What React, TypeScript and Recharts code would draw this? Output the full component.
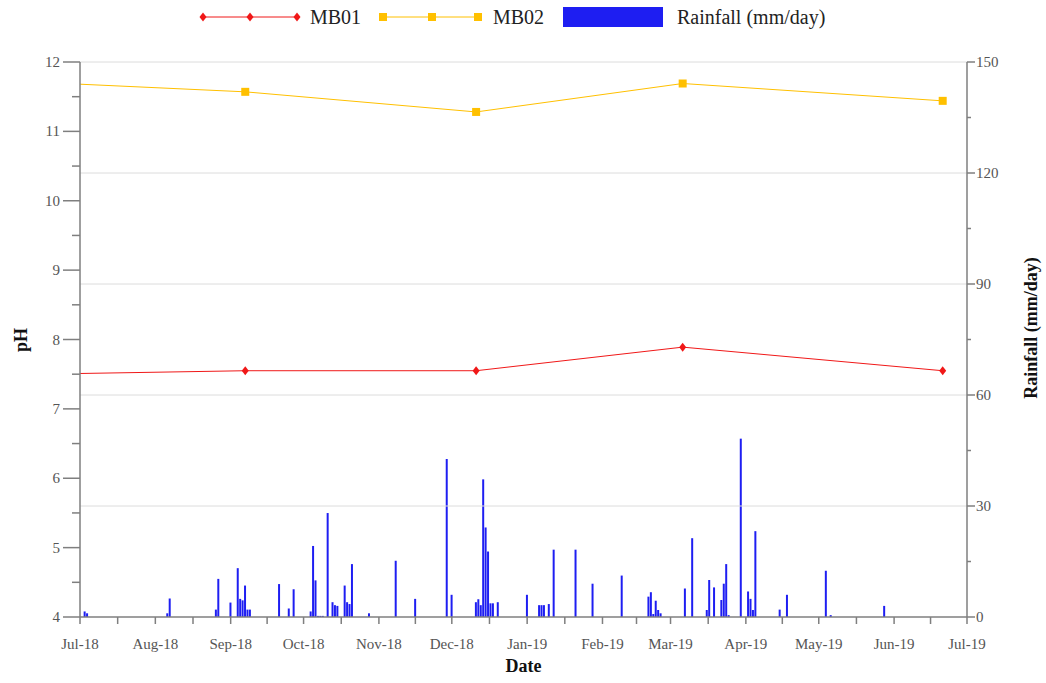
import React from 'react';
import { ComposedChart, Bar, Line, XAxis, YAxis, ReferenceLine } from 'recharts';

// days counted from 1 Jul 2018
const RAIN_DAYS = [2, 3, 36, 37, 56, 57, 62, 65, 66, 67, 68, 69, 70, 82, 86, 88, 95, 96, 97, 98, 99, 100, 102, 104, 105, 106, 109, 110, 111, 112, 119, 130, 138, 151, 153, 163, 164, 165, 166, 167, 168, 169, 170, 172, 184, 189, 190, 191, 193, 195, 204, 211, 223, 234, 235, 236, 237, 238, 239, 249, 252, 258, 259, 261, 264, 265, 266, 267, 272, 275, 276, 277, 278, 288, 291, 307, 309, 331];
const RAIN_MM = [1.5, 1, 1, 5, 2, 10.3, 3.9, 13.2, 4.9, 4.5, 8.5, 2, 2, 8.9, 2.3, 7.5, 1.5, 19.2, 9.9, 0.3, 0.3, 0.3, 28.1, 4, 3.2, 3, 8.5, 4, 3.5, 14.3, 1, 15.2, 4.9, 42.7, 6, 4, 4.8, 3.2, 37.2, 24.2, 17.7, 3.7, 3.7, 4, 6, 3.2, 3.2, 3.2, 3.5, 18.2, 18.2, 9, 11.2, 5.5, 6.7, 0.8, 4.4, 1.9, 1, 7.7, 21.3, 1.9, 10, 8, 4.6, 9, 14.3, 0.5, 48.2, 6.9, 4.9, 1.9, 23.2, 2, 6, 12.5, 0.5, 3];

const SAMPLE_DAYS = [0, 68, 163, 248, 355];
const MB01 = [7.51, 7.55, 7.55, 7.89, 7.55];
const MB02 = [11.68, 11.57, 11.28, 11.69, 11.44];

const MONTH_DAYS = [0, 31, 62, 92, 123, 153, 184, 215, 243, 274, 304, 335, 365];
const MONTH_LABELS = ['Jul-18', 'Aug-18', 'Sep-18', 'Oct-18', 'Nov-18', 'Dec-18', 'Jan-19', 'Feb-19', 'Mar-19', 'Apr-19', 'May-19', 'Jun-19', 'Jul-19'];

const PH_TICKS = [4, 4.5, 5, 5.5, 6, 6.5, 7, 7.5, 8, 8.5, 9, 9.5, 10, 10.5, 11, 11.5, 12];
const RAIN_TICKS = [0, 15, 30, 45, 60, 75, 90, 105, 120, 135, 150];
const RAIN_GRID = [30, 60, 90, 120, 150];

const FONT = '"Liberation Serif", "Times New Roman", serif';
const AXIS = '#7f7f7f';
const RED = '#f01818';
const GOLD = '#ffc000';
const BLUE = '#1e1ef2';

const rows = new Map<number, any>();
const row = (d: number) => {
  if (!rows.has(d)) rows.set(d, { day: d });
  return rows.get(d);
};
RAIN_DAYS.forEach((d, i) => (row(d).rain = RAIN_MM[i]));
SAMPLE_DAYS.forEach((d, i) => {
  row(d).mb01 = MB01[i];
  row(d).mb02 = MB02[i];
});
const chartData = Array.from(rows.values()).sort((a, b) => a.day - b.day);

const xTicks: number[] = [];
MONTH_DAYS.forEach((d, i) => {
  xTicks.push(d);
  if (i < MONTH_DAYS.length - 1) xTicks.push((d + MONTH_DAYS[i + 1]) / 2);
});

const Diamond = (props: any) => {
  const { cx, cy, payload, index } = props;
  if (cx == null || cy == null || !payload || payload.day === 0) return <g key={index} />;
  return <polygon key={index} points={`${cx},${cy - 4.5} ${cx + 3.5},${cy} ${cx},${cy + 4.5} ${cx - 3.5},${cy}`} fill={RED} />;
};

const Square = (props: any) => {
  const { cx, cy, payload, index } = props;
  if (cx == null || cy == null || !payload || payload.day === 0) return <g key={index} />;
  return <rect key={index} x={cx - 4} y={cy - 4} width={8} height={8} fill={GOLD} />;
};

const PhTick = (props: any) => {
  const { x, y, payload } = props;
  const major = Number.isInteger(payload.value);
  const ax = x + 20;
  return (
    <g>
      <line x1={ax - (major ? 17 : 8)} x2={ax} y1={y} y2={y} stroke={AXIS} strokeWidth={1.5} />
      {major && (
        <text x={x} y={y} dy={5} textAnchor="end" fill="#555" fontSize={15} fontFamily={FONT}>
          {payload.value}
        </text>
      )}
    </g>
  );
};

const RainTick = (props: any) => {
  const { x, y, payload } = props;
  const major = payload.value % 30 === 0;
  const ax = x - 11;
  return (
    <g>
      <line x1={ax} x2={ax + (major ? 8 : 4)} y1={y} y2={y} stroke={AXIS} strokeWidth={1.5} />
      {major && (
        <text x={x - 2} y={y} dy={5} textAnchor="start" fill="#555" fontSize={15} fontFamily={FONT}>
          {payload.value}
        </text>
      )}
    </g>
  );
};

const monthLabel = (v: number) => {
  const i = MONTH_DAYS.indexOf(v);
  return i >= 0 ? MONTH_LABELS[i] : '';
};

// rotated axis title placed at a given x, centred on cy
const sideTitle = (text: string, x: number, cy: number) => (props: any) => (
  <text
    x={x}
    y={cy}
    transform={`rotate(-90 ${x} ${cy})`}
    textAnchor="middle"
    dominantBaseline="central"
    fill="#111"
    fontSize={18}
    fontWeight="bold"
    fontFamily={FONT}
  >
    {text}
  </text>
);

const LegendBar = () => (
  <svg width={1046} height={36} style={{ position: 'absolute', left: 0, top: 0 }}>
    <line x1={203} x2={297} y1={17} y2={17} stroke={RED} strokeWidth={1} />
    {[203, 250, 297].map((x) => (
      <polygon key={x} points={`${x},${12.5} ${x + 3.5},17 ${x},${21.5} ${x - 3.5},17`} fill={RED} />
    ))}
    <text x={310} y={24} fontSize={20} fontFamily={FONT} fill="#222">MB01</text>
    <line x1={383} x2={478} y1={17} y2={17} stroke={GOLD} strokeWidth={1} />
    {[383, 432, 478].map((x) => (
      <rect key={x} x={x - 4} y={13} width={8} height={8} fill={GOLD} />
    ))}
    <text x={493} y={24} fontSize={20} fontFamily={FONT} fill="#222">MB02</text>
    <rect x={563} y={7} width={100} height={20} fill={BLUE} />
    <text x={677} y={24} fontSize={20} fontFamily={FONT} fill="#222">Rainfall (mm/day)</text>
  </svg>
);

export default function App() {
  return (
    <div style={{ position: 'absolute', left: 0, top: 0, width: 1046, height: 683, background: '#fff' }}>
      <ComposedChart width={1046} height={683} data={chartData} margin={{ top: 62, right: 19, left: 20, bottom: 26 }}>
        {RAIN_GRID.map((v) => (
          <ReferenceLine key={v} yAxisId="rain" y={v} stroke="#dcdcdc" strokeWidth={1} />
        ))}
        <XAxis
          dataKey="day"
          type="number"
          domain={[0, 365]}
          ticks={xTicks}
          interval={0}
          tickFormatter={monthLabel}
          height={40}
          tickSize={7}
          tickMargin={14}
          axisLine={{ stroke: AXIS, strokeWidth: 1.5 }}
          tickLine={{ stroke: AXIS, strokeWidth: 1.5 }}
          tick={{ fill: '#555', fontSize: 15, fontFamily: FONT }}
          label={{ value: 'Date', position: 'bottom', offset: 2, fill: '#111', fontSize: 18, fontWeight: 'bold', fontFamily: FONT }}
        />
        <YAxis
          yAxisId="ph"
          domain={[4, 12]}
          ticks={PH_TICKS}
          interval={0}
          width={60}
          tickSize={17}
          tickMargin={3}
          tickLine={false}
          axisLine={{ stroke: AXIS, strokeWidth: 1.5 }}
          tick={<PhTick />}
          label={{ content: sideTitle('pH', 21, 340) }}
        />
        <YAxis
          yAxisId="rain"
          orientation="right"
          domain={[0, 150]}
          ticks={RAIN_TICKS}
          interval={0}
          width={60}
          tickSize={8}
          tickMargin={3}
          tickLine={false}
          axisLine={{ stroke: AXIS, strokeWidth: 1.5 }}
          tick={<RainTick />}
          label={{ content: sideTitle('Rainfall (mm/day)', 1031, 328) }}
        />
        <Bar yAxisId="rain" dataKey="rain" fill={BLUE} barSize={2} isAnimationActive={false} />
        <Line yAxisId="ph" dataKey="mb01" stroke={RED} strokeWidth={1} connectNulls dot={Diamond} activeDot={false} isAnimationActive={false} />
        <Line yAxisId="ph" dataKey="mb02" stroke={GOLD} strokeWidth={1} connectNulls dot={Square} activeDot={false} isAnimationActive={false} />
      </ComposedChart>
      <LegendBar />
    </div>
  );
}
